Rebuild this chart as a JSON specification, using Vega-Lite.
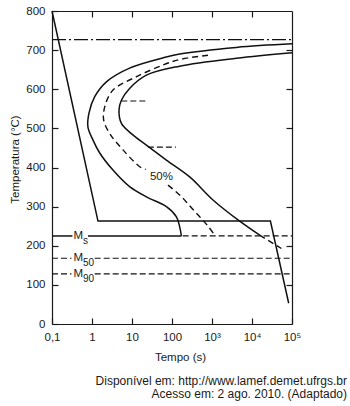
{
  "$schema": "https://vega.github.io/schema/vega-lite/v6.json",
  "width": 240,
  "height": 313,
  "autosize": {"type": "none"},
  "padding": {"left": 52, "top": 11, "right": 58, "bottom": 82},
  "background": "white",
  "config": {
    "font": "Liberation Sans",
    "view": {"stroke": null},
    "axis": {
      "grid": false,
      "domainColor": "#1a1a1a",
      "domainWidth": 1.2,
      "tickColor": "#1a1a1a",
      "tickWidth": 1.2,
      "tickSize": -6,
      "labelPadding": 13,
      "labelFont": "Liberation Sans",
      "labelFontSize": 11.5,
      "labelColor": "#1a1a1a",
      "labelOverlap": false,
      "labelFlush": false,
      "titleFont": "Liberation Sans",
      "titleFontSize": 11.5,
      "titleFontWeight": "normal",
      "titleColor": "#1a1a1a"
    }
  },
  "title": {
    "text": ["Disponível em: http://www.lamef.demet.ufrgs.br", "Acesso em: 2 ago. 2010. (Adaptado)"],
    "orient": "bottom",
    "anchor": "end",
    "align": "right",
    "frame": "group",
    "dx": 55,
    "offset": 13,
    "fontSize": 12,
    "fontWeight": "normal",
    "font": "Liberation Sans",
    "color": "#1a1a1a",
    "lineHeight": 13.5
  },
  "datasets": {
    "curves": [
      {"s": "cooling", "o": 1, "t": 0.1, "T": 800},
      {"s": "cooling", "o": 2, "t": 1.41, "T": 263},
      {"s": "cooling", "o": 3, "t": 28840, "T": 263},
      {"s": "cooling", "o": 4, "t": 82700, "T": 53},

      {"s": "start", "o": 1, "t": 100000, "T": 716},
      {"s": "start", "o": 2, "t": 4070, "T": 707},
      {"s": "start", "o": 3, "t": 155, "T": 690},
      {"s": "start", "o": 4, "t": 58.5, "T": 680},
      {"s": "start", "o": 5, "t": 8.7, "T": 654},
      {"s": "start", "o": 6, "t": 2.29, "T": 619},
      {"s": "start", "o": 7, "t": 1.17, "T": 581},
      {"s": "start", "o": 8, "t": 0.84, "T": 539},
      {"s": "start", "o": 9, "t": 0.79, "T": 504},
      {"s": "start", "o": 10, "t": 1.06, "T": 470},
      {"s": "start", "o": 11, "t": 1.56, "T": 437},
      {"s": "start", "o": 12, "t": 3.3, "T": 394},
      {"s": "start", "o": 13, "t": 8.7, "T": 351},
      {"s": "start", "o": 14, "t": 22.9, "T": 325},
      {"s": "start", "o": 15, "t": 72.4, "T": 300},
      {"s": "start", "o": 16, "t": 129, "T": 274},
      {"s": "start", "o": 17, "t": 155, "T": 249},
      {"s": "start", "o": 18, "t": 172, "T": 225},

      {"s": "finish", "o": 1, "t": 100000, "T": 693},
      {"s": "finish", "o": 2, "t": 4070, "T": 679},
      {"s": "finish", "o": 3, "t": 155, "T": 659},
      {"s": "finish", "o": 4, "t": 22.9, "T": 636},
      {"s": "finish", "o": 5, "t": 8.7, "T": 602},
      {"s": "finish", "o": 6, "t": 5.43, "T": 572},
      {"s": "finish", "o": 7, "t": 4.73, "T": 547},
      {"s": "finish", "o": 8, "t": 5.43, "T": 513},
      {"s": "finish", "o": 9, "t": 9.28, "T": 488},
      {"s": "finish", "o": 10, "t": 22.9, "T": 457},
      {"s": "finish", "o": 11, "t": 72.4, "T": 419},
      {"s": "finish", "o": 12, "t": 277, "T": 376},
      {"s": "finish", "o": 13, "t": 1059, "T": 317},
      {"s": "finish", "o": 14, "t": 4467, "T": 266},
      {"s": "finish", "o": 15, "t": 15570, "T": 227},

      {"s": "finishDashed", "o": 1, "t": 15570, "T": 227},
      {"s": "finishDashed", "o": 2, "t": 54330, "T": 193},

      {"s": "half1", "o": 1, "t": 794, "T": 687},
      {"s": "half1", "o": 2, "t": 155, "T": 676},
      {"s": "half1", "o": 3, "t": 59.6, "T": 662},
      {"s": "half1", "o": 4, "t": 12.9, "T": 632},
      {"s": "half1", "o": 5, "t": 3.35, "T": 598},
      {"s": "half1", "o": 6, "t": 2.08, "T": 555},
      {"s": "half1", "o": 7, "t": 1.96, "T": 521},
      {"s": "half1", "o": 8, "t": 2.77, "T": 487},
      {"s": "half1", "o": 9, "t": 5.96, "T": 445},
      {"s": "half1", "o": 10, "t": 15.6, "T": 402},
      {"s": "half1", "o": 11, "t": 22, "T": 395},

      {"s": "half2", "o": 1, "t": 79.4, "T": 355},
      {"s": "half2", "o": 2, "t": 155, "T": 330},
      {"s": "half2", "o": 3, "t": 277, "T": 302},
      {"s": "half2", "o": 4, "t": 493, "T": 274},
      {"s": "half2", "o": 5, "t": 781, "T": 251},
      {"s": "half2", "o": 6, "t": 1168, "T": 227},

      {"s": "A1", "o": 1, "t": 0.1, "T": 727},
      {"s": "A1", "o": 2, "t": 100000, "T": 727},

      {"s": "MsSolid1", "o": 1, "t": 0.1, "T": 225},
      {"s": "MsSolid1", "o": 2, "t": 0.324, "T": 225},
      {"s": "MsSolid2", "o": 1, "t": 0.794, "T": 225},
      {"s": "MsSolid2", "o": 2, "t": 172, "T": 225},
      {"s": "MsDashed", "o": 1, "t": 185, "T": 225},
      {"s": "MsDashed", "o": 2, "t": 100000, "T": 225},

      {"s": "M50a", "o": 1, "t": 0.1, "T": 168},
      {"s": "M50a", "o": 2, "t": 0.306, "T": 168},
      {"s": "M50b", "o": 1, "t": 1.168, "T": 168},
      {"s": "M50b", "o": 2, "t": 100000, "T": 168},
      {"s": "M90a", "o": 1, "t": 0.1, "T": 128},
      {"s": "M90a", "o": 2, "t": 0.306, "T": 128},
      {"s": "M90b", "o": 1, "t": 1.168, "T": 128},
      {"s": "M90b", "o": 2, "t": 100000, "T": 128},

      {"s": "mark570", "o": 1, "t": 5.4, "T": 570},
      {"s": "mark570", "o": 2, "t": 23, "T": 570},
      {"s": "mark452", "o": 1, "t": 25, "T": 452},
      {"s": "mark452", "o": 2, "t": 125, "T": 452}
    ],
    "mlabels": [
      {"main": "M", "sub": "s", "t": 0.457, "T": 225},
      {"main": "M", "sub": "50", "t": 0.457, "T": 168},
      {"main": "M", "sub": "90", "t": 0.457, "T": 128}
    ],
    "plabels": [
      {"label": "50%", "t": 54.3, "T": 376}
    ]
  },
  "layer": [
    {
      "data": {"name": "curves"},
      "transform": [{"filter": {"field": "s", "oneOf": ["start", "finish", "MsSolid1", "MsSolid2"]}}],
      "mark": {"type": "line", "interpolate": "catmull-rom", "color": "#111", "strokeWidth": 1.5},
      "encoding": {
        "x": {"field": "t", "type": "quantitative", "scale": {"type": "log", "domain": [0.1, 100000], "nice": false},
          "axis": {"orient": "bottom", "values": [0.1, 1, 10, 100, 1000, 10000, 100000],
            "labelExpr": "datum.value < 0.5 ? '0,1' : datum.value < 5 ? '1' : datum.value < 50 ? '10' : datum.value < 500 ? '100' : datum.value < 5000 ? '10³' : datum.value < 50000 ? '10⁴' : '10⁵'",
            "title": "Tempo (s)", "titleX": 128, "titleY": 27, "titleBaseline": "top", "titleAlign": "center", "titleAnchor": null}},
        "y": {"field": "T", "type": "quantitative", "scale": {"domain": [0, 800], "nice": false, "zero": false},
          "axis": {"orient": "left", "values": [0, 100, 200, 300, 400, 500, 600, 700, 800],
            "title": "Temperatura (°C)", "titleX": -34, "titleY": 148, "titleAngle": -90, "titleBaseline": "alphabetic", "titleAlign": "center", "titleAnchor": null}},
        "detail": {"field": "s"},
        "order": {"field": "o"}
      }
    },
    {
      "data": {"name": "curves"},
      "transform": [{"filter": {"field": "s", "oneOf": ["cooling"]}}],
      "mark": {"type": "line", "color": "#111", "strokeWidth": 1.5},
      "encoding": {
        "x": {"field": "t", "type": "quantitative", "scale": {"type": "log", "domain": [0.1, 100000], "nice": false}, "axis": null},
        "y": {"field": "T", "type": "quantitative", "scale": {"domain": [0, 800], "nice": false, "zero": false}, "axis": null},
        "order": {"field": "o"}
      }
    },
    {
      "data": {"name": "curves"},
      "transform": [{"filter": {"field": "s", "oneOf": ["half1", "half2", "finishDashed"]}}],
      "mark": {"type": "line", "interpolate": "catmull-rom", "color": "#111", "strokeWidth": 1.4, "strokeDash": [6, 4]},
      "encoding": {
        "x": {"field": "t", "type": "quantitative", "scale": {"type": "log", "domain": [0.1, 100000], "nice": false}, "axis": null},
        "y": {"field": "T", "type": "quantitative", "scale": {"domain": [0, 800], "nice": false, "zero": false}, "axis": null},
        "detail": {"field": "s"},
        "order": {"field": "o"}
      }
    },
    {
      "data": {"name": "curves"},
      "transform": [{"filter": {"field": "s", "oneOf": ["MsDashed", "M50a", "M50b", "M90a", "M90b", "mark570", "mark452"]}}],
      "mark": {"type": "line", "color": "#111", "strokeWidth": 1.2, "strokeDash": [6, 3]},
      "encoding": {
        "x": {"field": "t", "type": "quantitative", "scale": {"type": "log", "domain": [0.1, 100000], "nice": false}, "axis": null},
        "y": {"field": "T", "type": "quantitative", "scale": {"domain": [0, 800], "nice": false, "zero": false}, "axis": null},
        "detail": {"field": "s"},
        "order": {"field": "o"}
      }
    },
    {
      "data": {"name": "curves"},
      "transform": [{"filter": {"field": "s", "oneOf": ["A1"]}}],
      "mark": {"type": "line", "color": "#111", "strokeWidth": 1.2, "strokeDash": [14, 3, 2, 3]},
      "encoding": {
        "x": {"field": "t", "type": "quantitative", "scale": {"type": "log", "domain": [0.1, 100000], "nice": false},
          "axis": {"orient": "top", "values": [1, 10, 100, 1000, 10000], "labels": false, "title": null}},
        "y": {"field": "T", "type": "quantitative", "scale": {"domain": [0, 800], "nice": false, "zero": false},
          "axis": {"orient": "right", "values": [100, 200, 300, 400, 500, 600, 700], "labels": false, "title": null}},
        "order": {"field": "o"}
      }
    },
    {
      "data": {"name": "plabels"},
      "mark": {"type": "text", "fontSize": 11.5, "color": "#1a1a1a", "align": "center", "baseline": "middle"},
      "encoding": {
        "x": {"field": "t", "type": "quantitative", "scale": {"type": "log", "domain": [0.1, 100000], "nice": false}, "axis": null},
        "y": {"field": "T", "type": "quantitative", "scale": {"domain": [0, 800], "nice": false, "zero": false}, "axis": null},
        "text": {"field": "label"}
      }
    },
    {
      "data": {"name": "mlabels"},
      "mark": {"type": "text", "fontSize": 11.5, "color": "#1a1a1a", "align": "center", "baseline": "middle"},
      "encoding": {
        "x": {"field": "t", "type": "quantitative", "scale": {"type": "log", "domain": [0.1, 100000], "nice": false}, "axis": null},
        "y": {"field": "T", "type": "quantitative", "scale": {"domain": [0, 800], "nice": false, "zero": false}, "axis": null},
        "text": {"field": "main"}
      }
    },
    {
      "data": {"name": "mlabels"},
      "mark": {"type": "text", "fontSize": 10, "color": "#1a1a1a", "align": "left", "baseline": "middle", "dx": 4.5, "dy": 5},
      "encoding": {
        "x": {"field": "t", "type": "quantitative", "scale": {"type": "log", "domain": [0.1, 100000], "nice": false}, "axis": null},
        "y": {"field": "T", "type": "quantitative", "scale": {"domain": [0, 800], "nice": false, "zero": false}, "axis": null},
        "text": {"field": "sub"}
      }
    }
  ],
  "resolve": {"axis": {"x": "independent", "y": "independent"}}
}
